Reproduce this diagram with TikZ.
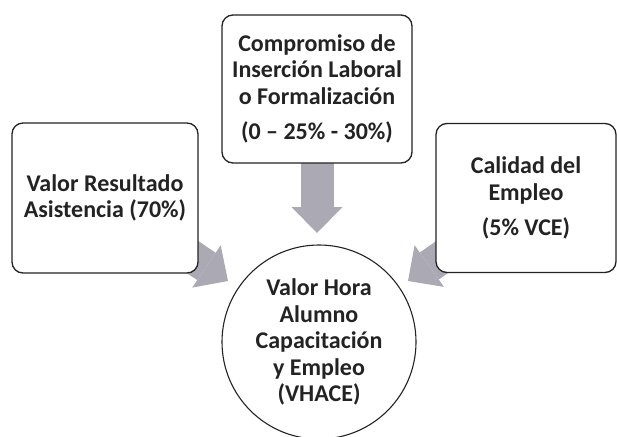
\documentclass[tikz,border=0pt]{standalone}
\usepackage{fontspec}
\setmainfont{Carlito}
\usetikzlibrary{arrows.meta,backgrounds}

\definecolor{arrowgray}{RGB}{170,169,180}
\definecolor{inkdark}{RGB}{35,35,35}

\tikzset{
	box/.style={draw=inkdark, line width=1.3pt, rounded corners=11pt, fill=white,
		align=center, inner sep=0pt, text=inkdark,
		font=\bfseries\fontsize{24}{26.5}\selectfont},
	hub/.style={box, circle, rounded corners=0pt, line width=1.1pt},
	fatarrow/.style={draw=arrowgray, line width=33pt,
		-{Triangle[width=51pt, length=26pt, line width=0pt]}}
}

\begin{document}
\begin{tikzpicture}[x=1pt, y=-1pt]
		\useasboundingbox (0,0) rectangle (617,436);

		\node[box, minimum width=190pt, minimum height=148pt] (insercion) at (317,89)
			{Compromiso de\\Inserción Laboral\\o Formalización\\[9pt](0 – 25\% - 30\%)};
		\node[box, minimum width=186pt, minimum height=150pt] (asistencia) at (105,198)
			{Valor Resultado\\Asistencia (70\%)};
		\node[box, minimum width=180pt, minimum height=149pt] (calidad) at (526,198)
			{Calidad del\\Empleo\\[9pt](5\% VCE)};
		\node[hub, minimum size=194pt] (vhace) at (319,342)
			{Valor Hora\\Alumno\\Capacitación\\y Empleo\\(VHACE)};

		\coordinate (toptip) at (317,233);
		\coordinate (lefttip) at (228,281);
		\coordinate (righttip) at (408,281);

		% arrows go under the boxes
		\begin{scope}[on background layer]
			\draw[fatarrow] (insercion.center) -- (toptip);
			\draw[fatarrow] (asistencia.center) -- (lefttip);
			\draw[fatarrow] (calidad.center) -- (righttip);
		\end{scope}
	\end{tikzpicture}
\end{document}
